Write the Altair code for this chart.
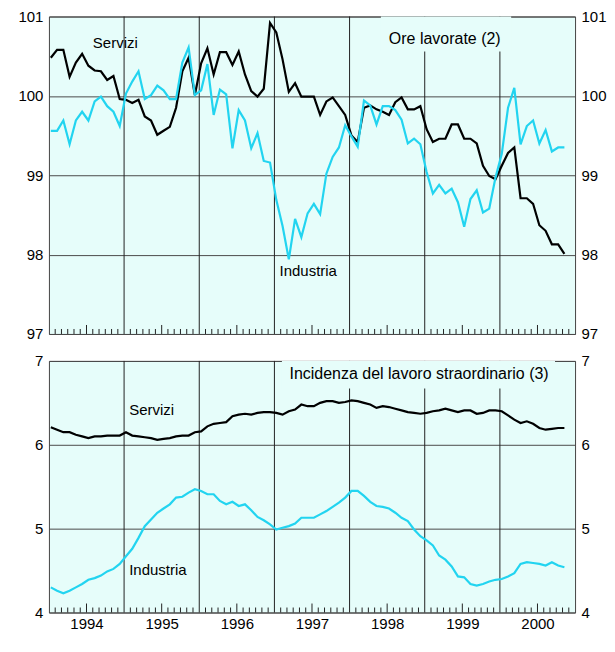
import altair as alt
import pandas as pd

# ---------------- data (monthly, Jan 1994 - Nov 2000) ----------------
years = ["1994", "1995", "1996", "1997", "1998", "1999", "2000"]

ore_servizi = [
    100.48, 100.58, 100.58, 100.24, 100.42, 100.53, 100.38, 100.32, 100.31, 100.20, 100.25, 99.96,
    99.95, 99.91, 99.95, 99.74, 99.69, 99.51, 99.56, 99.61, 99.85, 100.31, 100.48, 100.01,
    100.41, 100.60, 100.27, 100.55, 100.55, 100.39, 100.56, 100.27, 100.06, 99.99, 100.09, 100.92,
    100.80, 100.46, 100.05, 100.16, 99.99, 99.99, 99.99, 99.76, 99.93, 99.98, 99.87, 99.76,
    99.50, 99.42, 99.85, 99.88, 99.83, 99.80, 99.76, 99.92, 99.98, 99.83, 99.83, 99.87,
    99.58, 99.42, 99.46, 99.46, 99.64, 99.64, 99.46, 99.46, 99.40, 99.12, 98.99, 98.95,
    99.12, 99.28, 99.35, 98.71, 98.71, 98.64, 98.37, 98.30, 98.13, 98.13, 98.01,
]
ore_industria = [
    99.56, 99.56, 99.69, 99.39, 99.69, 99.80, 99.69, 99.93, 99.99, 99.87, 99.80, 99.62,
    100.03, 100.18, 100.31, 99.96, 100.01, 100.13, 100.07, 99.96, 99.96, 100.42, 100.61, 100.01,
    100.07, 100.40, 99.76, 100.08, 100.02, 99.34, 99.82, 99.69, 99.34, 99.53, 99.18, 99.16,
    98.69, 98.36, 97.94, 98.45, 98.22, 98.52, 98.64, 98.51, 99.02, 99.23, 99.35, 99.63,
    99.49, 99.36, 99.94, 99.88, 99.64, 99.87, 99.87, 99.82, 99.70, 99.40, 99.46, 99.39,
    99.04, 98.77, 98.88, 98.77, 98.83, 98.66, 98.35, 98.70, 98.81, 98.53, 98.58, 98.97,
    99.27, 99.85, 100.10, 99.39, 99.62, 99.69, 99.40, 99.57, 99.30, 99.35, 99.35,
]
stra_servizi = [
    6.21, 6.18, 6.15, 6.15, 6.12, 6.10, 6.08, 6.10, 6.10, 6.11, 6.11, 6.11,
    6.15, 6.11, 6.10, 6.09, 6.08, 6.06, 6.07, 6.08, 6.10, 6.11, 6.11, 6.15,
    6.16, 6.22, 6.25, 6.26, 6.27, 6.34, 6.36, 6.37, 6.36, 6.38, 6.39, 6.39,
    6.38, 6.36, 6.40, 6.42, 6.48, 6.46, 6.46, 6.50, 6.52, 6.52, 6.50, 6.51,
    6.53, 6.52, 6.50, 6.48, 6.44, 6.46, 6.45, 6.43, 6.41, 6.39, 6.38, 6.37,
    6.38, 6.40, 6.41, 6.43, 6.41, 6.39, 6.41, 6.41, 6.37, 6.38, 6.41, 6.41,
    6.40, 6.35, 6.30, 6.26, 6.28, 6.25, 6.20, 6.18, 6.19, 6.20, 6.20,
]
stra_industria = [
    4.30, 4.26, 4.23, 4.26, 4.30, 4.34, 4.39, 4.41, 4.44, 4.49, 4.52, 4.58,
    4.67, 4.76, 4.89, 5.03, 5.11, 5.19, 5.24, 5.29, 5.37, 5.38, 5.43, 5.47,
    5.45, 5.41, 5.41, 5.33, 5.29, 5.32, 5.27, 5.29, 5.22, 5.14, 5.10, 5.05,
    4.99, 5.01, 5.03, 5.06, 5.13, 5.13, 5.13, 5.17, 5.21, 5.26, 5.31, 5.37,
    5.45, 5.45, 5.39, 5.32, 5.27, 5.26, 5.24, 5.19, 5.13, 5.09, 4.99, 4.91,
    4.86, 4.80, 4.68, 4.63, 4.55, 4.43, 4.42, 4.34, 4.32, 4.34, 4.37, 4.39,
    4.40, 4.43, 4.47, 4.58, 4.60, 4.59, 4.58, 4.56, 4.60, 4.56, 4.54,
]

serie_names = ["Servizi", "Industria"]
serie_colors = ["#000000", "#22D4F0"]

# annotations: text, x (months from Jan 1994), y (value)
top_labels = [("Servizi", 10.6, 100.66), ("Industria", 41.4, 97.79)]
bot_labels = [("Servizi", 16.4, 6.41), ("Industria", 17.4, 4.51)]
top_title = ("Ore lavorate (2)", 63.2, 100.72)
bot_title = ("Incidenza del lavoro straordinario (3)", 59.1, 6.84)
top_title_box = (53.0, 73.8, 101.0, 100.56)
bot_title_box = (37.2, 80.8, 7.0, 6.67)

FONT = "Liberation Sans"
BG = "#E6FDFA"
W = 527
H_TOP = 318
H_BOT = 252
N_MONTHS = 12 * len(years)

months = [i + 0.3 for i in range(len(ore_servizi))]


def long_df(a, b):
    rows = []
    for name, vals in zip(serie_names, [a, b]):
        for m, v in zip(months, vals):
            rows.append({"mese": m, "serie": name, "valore": v})
    return pd.DataFrame(rows)


boundaries = pd.DataFrame({"mese": [12 * k for k in range(1, len(years))]})
minor_ticks = pd.DataFrame({"mese": [k for k in range(1, N_MONTHS) if k % 12 not in (0, 6)]})
major_ticks = pd.DataFrame({"mese": [k for k in range(1, N_MONTHS) if k % 12 == 6]})

xscale = alt.Scale(domain=[0, N_MONTHS], nice=False, zero=False)
color = alt.Color("serie:N", scale=alt.Scale(domain=serie_names, range=serie_colors), legend=None)

year_expr = "[" + ",".join("'%s'" % y for y in years) + "][floor(datum.value/12)]"


def panel(a, b, domain, height, labels, title, box, show_years):
    ys = alt.Scale(domain=domain, nice=False, zero=False)
    yvals = list(range(domain[0], domain[1] + 1))
    df = long_df(a, b)

    if show_years:
        xaxis = alt.Axis(values=[12 * k + 6 for k in range(len(years))], labelExpr=year_expr,
                         ticks=False, domain=False, grid=False, labelPadding=4,
                         labelFontSize=15, labelFont=FONT, labelColor="#000", title=None)
    else:
        xaxis = None

    def X(field):
        return alt.X(field, scale=xscale, axis=xaxis)

    vrules = alt.Chart(boundaries).mark_rule(color="#222", strokeWidth=1).encode(
        x=X("mese:Q")
    )
    bx = pd.DataFrame([{"x0": box[0], "x1": box[1], "y0": box[2], "y1": box[3]}])
    boxl = alt.Chart(bx).mark_rect(fill=BG, strokeWidth=0).encode(
        x=X("x0:Q"), x2="x1:Q",
        y=alt.Y("y0:Q", scale=ys, axis=None), y2="y1:Q",
    )
    tmin = alt.Chart(minor_ticks).mark_rule(color="#222", strokeWidth=1).encode(
        x=X("mese:Q"),
        y=alt.value(height), y2=alt.value(height - 5),
    )
    tmaj = alt.Chart(major_ticks).mark_rule(color="#222", strokeWidth=1).encode(
        x=X("mese:Q"),
        y=alt.value(height), y2=alt.value(height - 9),
    )
    lines = alt.Chart(df).mark_line(strokeWidth=2.2).encode(
        x=X("mese:Q"),
        y=alt.Y("valore:Q", scale=ys,
                axis=alt.Axis(orient="left", values=yvals, grid=True, gridColor="#4a4a4a",
                              gridWidth=1, ticks=False, domain=False, labelPadding=6,
                              labelFontSize=15, labelFont=FONT, labelColor="#000", title=None)),
        color=color,
    )
    right = alt.Chart(df).mark_line(opacity=0).encode(
        x=X("mese:Q"),
        y=alt.Y("valore:Q", scale=ys,
                axis=alt.Axis(orient="right", values=yvals, grid=False, ticks=False, domain=False,
                              labelPadding=6, labelFontSize=15, labelFont=FONT,
                              labelColor="#000", title=None)),
        detail="serie:N",
    )
    lab = pd.DataFrame([{"t": t, "x": x, "y": y} for t, x, y in labels])
    labl = alt.Chart(lab).mark_text(font=FONT, fontSize=15, color="#000").encode(
        x=X("x:Q"),
        y=alt.Y("y:Q", scale=ys, axis=None),
        text="t:N",
    )
    tt = pd.DataFrame([{"t": title[0], "x": title[1], "y": title[2]}])
    titl = alt.Chart(tt).mark_text(font=FONT, fontSize=16, color="#000").encode(
        x=X("x:Q"),
        y=alt.Y("y:Q", scale=ys, axis=None),
        text="t:N",
    )
    return alt.layer(vrules, boxl, tmin, tmaj, lines, right, labl, titl).resolve_axis(
        y="independent"
    ).properties(width=W, height=height)


top = panel(ore_servizi, ore_industria, [97, 101], H_TOP, top_labels, top_title,
            top_title_box, False)
bottom = panel(stra_servizi, stra_industria, [4, 7], H_BOT, bot_labels, bot_title,
               bot_title_box, True)

chart = alt.vconcat(top, bottom, spacing=27, bounds="flush").properties(
    padding={"left": 9, "top": 0, "right": 0, "bottom": 0},
    background="white",
).configure_view(fill=BG, stroke="#444", strokeWidth=1)

chart.save("out.html", embed_options={"renderer": "svg", "actions": False})
